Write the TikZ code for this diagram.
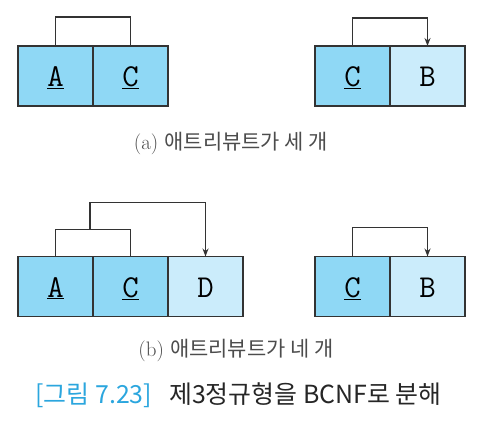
\documentclass[tikz,border=0pt]{standalone}
\usepackage{fontspec}
\newfontfamily\kor{Noto Sans CJK KR}
\usepackage{tikz}
\usetikzlibrary{arrows.meta, positioning}
\definecolor{keyblue}{HTML}{8FD8F5}
\definecolor{attrblue}{HTML}{CBECFB}
\definecolor{figblue}{HTML}{2BA6DE}
\definecolor{linegray}{HTML}{333333}

\begin{document}
\begin{tikzpicture}[x=1bp, y=-1bp,
        cell/.style={draw=linegray, line width=1.8bp, minimum width=75bp, minimum height=60bp,
            outer sep=0pt, inner sep=0pt, text height=21bp, text depth=0pt,
            font=\ttfamily\fontsize{32}{32}\selectfont},
        key/.style={cell, fill=keyblue},
        attr/.style={cell, fill=attrblue},
        fd/.style={draw=linegray, line width=1.5bp},
        fdarrow/.style={fd, -{Stealth[length=8bp, width=6bp]}},
        caption/.style={text=black!70, font=\fontsize{21}{21}\selectfont},
        figtitle/.style={text=black!85, font=\kor\fontsize{25}{25}\selectfont}
    ]
        \useasboundingbox[fill=white] (0,0) rectangle (481,427);

        % (a) 애트리뷰트가 세 개
        \node [key] (A1) at (55.5,76) {\underline{A}};
        \node [key, right=0pt of A1] (C1) {\underline{C}};
        \node [key] (C2) at (352.5,76) {\underline{C}};
        \node [attr, right=0pt of C2] (B2) {B};

        \draw[fd] (A1.north) -- ++(0,-29) -| (C1.north);
        \draw[fdarrow] (C2.north) -- ++(0,-28) -| (B2.north);

        \node [caption] (capA) at (231,143) {(a) {\kor 애트리뷰트가 세 개}};

        % (b) 애트리뷰트가 네 개
        \node [key] (A3) at (55.5,286.5) {\underline{A}};
        \node [key, right=0pt of A3] (C3) {\underline{C}};
        \node [attr, right=0pt of C3] (D3) {D};
        \node [key] (C4) at (352.5,286.5) {\underline{C}};
        \node [attr, right=0pt of C4] (B4) {B};

        \draw[fd] (A3.north) -- ++(0,-27) -| (C3.north);
        \coordinate (ACbar) at ([xshift=34.5bp, yshift=27bp]A3.north);
        \draw[fdarrow] (ACbar) -- ++(0,-27) -| (D3.north);
        \draw[fdarrow] (C4.north) -- ++(0,-29) -| (B4.north);

        \node [caption] (capB) at (236,350) {(b) {\kor 애트리뷰트가 네 개}};

        % 그림 제목
        \node [figtitle] (fig) at (238.5,395) {{\color{figblue}[그림 7.23]}\hspace{17bp}제3정규형을 BCNF로 분해};
    \end{tikzpicture}
\end{document}
